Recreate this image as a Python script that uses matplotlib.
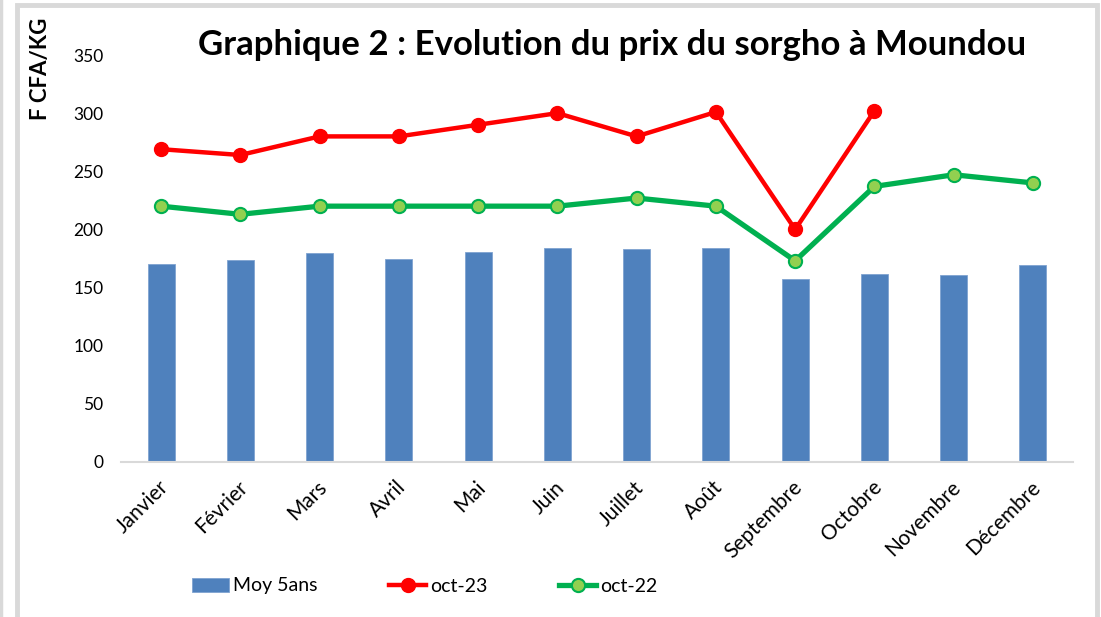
import matplotlib
matplotlib.use("Agg")
import matplotlib.pyplot as plt
import matplotlib.transforms as mtransforms
from matplotlib.patches import Rectangle
from matplotlib.lines import Line2D
import numpy as np

months = ["Janvier", "Février", "Mars", "Avril", "Mai", "Juin", "Juillet",
          "Août", "Septembre", "Octobre", "Novembre", "Décembre"]
moy5ans = [170, 174, 180, 175, 181, 184, 183, 184, 157, 162, 161, 169]
oct23 = [269, 264, 280, 280, 290, 300, 280, 301, 200, 302]
oct22 = [220, 213, 220, 220, 220, 220, 227, 220, 173, 237, 247, 240]
yticks = [0, 50, 100, 150, 200, 250, 300, 350]

title = "Graphique 2 : Evolution du prix du sorgho à Moundou"
ylabel = "F CFA/KG"

plt.rcParams['font.family'] = ['Lato', 'DejaVu Sans']

W, H = 1101, 617
fig = plt.figure(figsize=(W / 100, H / 100), dpi=100)
fig.patch.set_facecolor("white")

# outer frame
fig.add_artist(Rectangle((17 / W, -0.1), (1097 - 17) / W, 1.1 - 5 / H,
                         transform=fig.transFigure, fill=False,
                         edgecolor="#D9D9D9", linewidth=3.5))
fig.add_artist(Line2D([1 / W, 1 / W], [0, 1], transform=fig.transFigure,
                      color="#D9D9D9", linewidth=2.5))

ax = fig.add_axes([121.4 / W, 1 - 462 / H, (1072.6 - 121.4) / W, (462 - 55) / H])
x = np.arange(len(months))

b = ax.bar(x, moy5ans, width=0.34, color="#4F81BD", edgecolor="#7FA3D1",
           linewidth=0.6, label="Moy 5ans", zorder=2)
l1, = ax.plot(x[:len(oct23)], oct23, color="#FF0000", linewidth=3.2, marker="o",
              markersize=10, markerfacecolor="#FF0000", markeredgecolor="#FF0000",
              label="oct-23", zorder=3)
l2, = ax.plot(x, oct22, color="#00B050", linewidth=3.8, marker="o",
              markersize=9.5, markerfacecolor="#92D050", markeredgecolor="#00B050",
              markeredgewidth=1.5, label="oct-22", zorder=3)

ax.set_xlim(-0.5, len(months) - 0.5)
ax.set_ylim(0, 350)
ax.set_yticks(yticks)
ax.set_yticklabels([str(v) for v in yticks], fontsize=12.5)
ax.tick_params(axis="y", length=0, pad=13)
ax.tick_params(axis="x", length=0, pad=16)
ax.set_xticks(x)
offset = mtransforms.ScaledTranslation(3 / 72, 0, fig.dpi_scale_trans)
labels = ax.set_xticklabels(months, rotation=45, ha="right", va="center",
                            rotation_mode="anchor", fontsize=15)
for lab in labels:
    lab.set_transform(lab.get_transform() + offset)

for s in ["top", "right", "left"]:
    ax.spines[s].set_visible(False)
ax.spines["bottom"].set_color("#D9D9D9")
ax.spines["bottom"].set_linewidth(1.5)
ax.set_facecolor("none")

fig.text(612 / W, 1 - 45 / H, title, ha="center", va="center",
         fontsize=25, fontweight="bold")
fig.text(40 / W, 1 - 69 / H, ylabel, ha="center", va="center",
         rotation=90, fontsize=16, fontweight="bold")

leg = fig.legend([b, l1, l2], ["Moy 5ans", "oct-23", "oct-22"], loc="center left",
                 bbox_to_anchor=(192 / W, 1 - 586 / H), ncol=3, frameon=False,
                 fontsize=14, handlelength=1.9, handletextpad=0.2,
                 columnspacing=3.7, borderaxespad=0, borderpad=0)

fig.savefig("out.png", dpi=100)
